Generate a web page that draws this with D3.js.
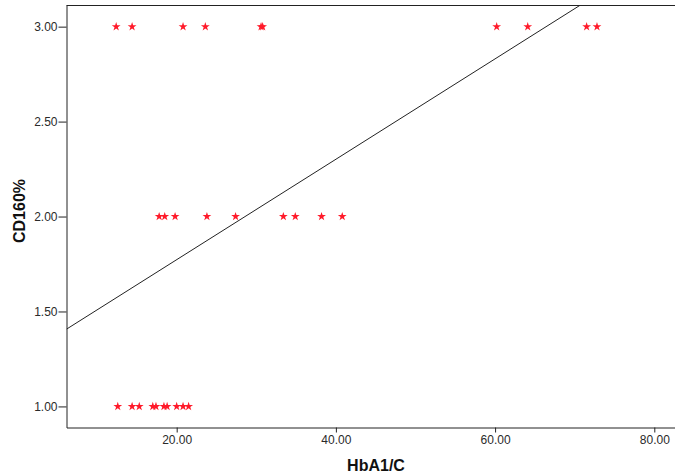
<!DOCTYPE html>
<html>
<head>
<meta charset="utf-8">
<script src="https://cdn.jsdelivr.net/npm/d3@7"></script>
<style>
  body { margin: 0; background: #fff; }
  .axis text { font-family: "Liberation Sans", Arial, sans-serif; font-size: 12px; fill: #2a2a2a; }
  .axis path, .axis line { stroke: #222; }
  .label { font-family: "Liberation Sans", Arial, sans-serif; font-size: 16px; font-weight: bold; fill: #111; }
</style>
</head>
<body>
<div id="chart"></div>
<script>
// HbA1/C values for each CD160% group
var hba1c_3 = [12.4, 14.4, 20.8, 23.6, 30.6, 30.8, 60.2, 64.1, 71.5, 72.8];
var hba1c_2 = [17.8, 18.5, 19.8, 23.8, 27.4, 33.4, 34.9, 38.2, 40.8];
var hba1c_1 = [12.6, 14.4, 15.3, 17.0, 17.4, 18.4, 18.8, 20.0, 20.8, 21.5];
var xTicks = [20, 40, 60, 80];
var yTicks = [1, 1.5, 2, 2.5, 3];
// fit line: CD160% = intercept + slope * HbA1/C
var fitIntercept = 1.244;
var fitSlope = 0.02644;

(function(){
  'use strict';

  var points = [];
  hba1c_3.forEach(function(v){ points.push({x: v, y: 3}); });
  hba1c_2.forEach(function(v){ points.push({x: v, y: 2}); });
  hba1c_1.forEach(function(v){ points.push({x: v, y: 1}); });

  var W = 675, H = 476;
  var pLeft = 66.5, pRight = 675, pTop = 5, pBottom = 427.5;

  var svg = d3.select("#chart").append("svg")
    .attr("width", W)
    .attr("height", H);

  var x = d3.scaleLinear().domain([6.16, 82.6]).range([pLeft, pRight]);
  var y = d3.scaleLinear().domain([0.889, 3.114]).range([pBottom, pTop]);

  svg.append("clipPath").attr("id", "clip")
    .append("rect")
    .attr("x", pLeft).attr("y", pTop)
    .attr("width", pRight - pLeft).attr("height", pBottom - pTop);

  // top frame line
  svg.append("line")
    .attr("x1", pLeft).attr("x2", pRight)
    .attr("y1", pTop + 0.5).attr("y2", pTop + 0.5)
    .attr("stroke", "#222");

  svg.append("g")
    .attr("class", "axis")
    .attr("transform", "translate(0," + pBottom + ")")
    .call(d3.axisBottom(x).tickValues(xTicks).tickFormat(d3.format(".2f")).tickSize(5).tickSizeOuter(0).tickPadding(3));

  svg.append("g")
    .attr("class", "axis")
    .attr("transform", "translate(" + pLeft + ",0)")
    .call(d3.axisLeft(y).tickValues(yTicks).tickFormat(d3.format(".2f")).tickSize(8).tickSizeOuter(0).tickPadding(1));

  // regression line
  var xd = x.domain();
  svg.append("line")
    .attr("clip-path", "url(#clip)")
    .attr("x1", x(xd[0])).attr("y1", y(fitIntercept + fitSlope * xd[0]))
    .attr("x2", x(xd[1])).attr("y2", y(fitIntercept + fitSlope * xd[1]))
    .attr("stroke", "#222")
    .attr("stroke-width", 1);

  // stars
  svg.append("g").selectAll("path")
    .data(points)
    .enter().append("path")
    .attr("d", d3.symbol().type(d3.symbolStar).size(24))
    .attr("transform", function(d){ return "translate(" + x(d.x) + "," + y(d.y) + ")"; })
    .attr("fill", "#ff1a2a");

  svg.append("text")
    .attr("class", "label")
    .attr("x", 376).attr("y", 471)
    .attr("text-anchor", "middle")
    .text("HbA1/C");

  svg.append("text")
    .attr("class", "label")
    .attr("transform", "translate(25,211) rotate(-90)")
    .attr("text-anchor", "middle")
    .text("CD160%");
})();
</script>
</body>
</html>
